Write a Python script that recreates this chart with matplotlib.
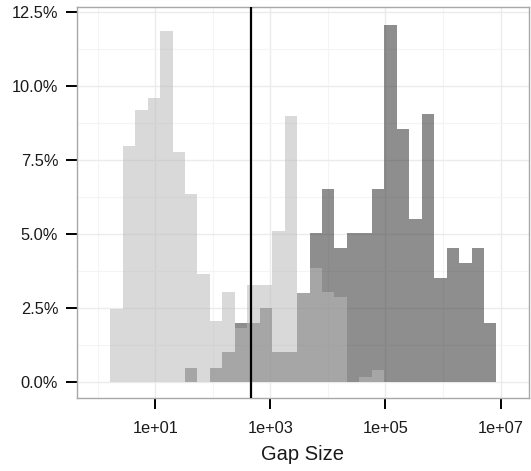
import numpy as np
import matplotlib
matplotlib.use("Agg")
import matplotlib.pyplot as plt
from matplotlib.ticker import FuncFormatter, FixedLocator

# ----------------- data (percent of each group per log10 bin) -----------------
BIN_START_LOG10 = 0.219      # left edge of first bin, log10(gap size)
BIN_WIDTH_LOG10 = 0.2164     # ggplot-style equal bins on log scale

pct_light = [2.47, 7.98, 9.20, 9.62, 11.86, 7.77, 6.35, 3.66, 2.06, 3.06,
             1.82, 3.29, 3.29, 5.12, 9.00, 3.03, 3.87, 3.06, 2.89, 0.00,
             0.19, 0.40, 0.00, 0.00, 0.00, 0.00, 0.00, 0.00, 0.00, 0.00, 0.00]
pct_dark = [0.00, 0.00, 0.00, 0.00, 0.00, 0.00, 0.47, 0.00, 0.47, 1.02,
            1.99, 1.99, 2.50, 1.02, 1.02, 3.03, 5.03, 6.54, 4.53, 5.03,
            5.03, 6.54, 12.08, 8.55, 5.53, 9.05, 3.53, 4.53, 4.02, 4.53, 2.01]

CUTOFF = 460                 # vertical reference line
x_ticks = [1e1, 1e3, 1e5, 1e7]
x_tick_labels = ["1e+01", "1e+03", "1e+05", "1e+07"]
x_minor = [1e0, 1e2, 1e4, 1e6]
y_ticks = [0, 2.5, 5.0, 7.5, 10.0, 12.5]

# ----------------- style -----------------
plt.rcParams.update({
    "font.family": ["Liberation Sans", "DejaVu Sans"],
})
LIGHT_FC = "#bababa"
DARK_FC = "#313131"
ALPHA = 0.55
GRID_MAJOR = "#ebebeb"
GRID_MINOR = "#f4f4f4"

fig = plt.figure(figsize=(5.31, 4.71), dpi=100)
ax = fig.add_axes([0.145, 0.1543, 0.8507, 0.8315])

n = len(pct_light)
edges = 10 ** (BIN_START_LOG10 + BIN_WIDTH_LOG10 * np.arange(n + 1))
left = edges[:-1]
width = edges[1:] - edges[:-1]

ax.set_xscale("log")
ax.bar(left, pct_dark, width=width, align="edge", color=DARK_FC, alpha=ALPHA,
       linewidth=0, zorder=2)
ax.bar(left, pct_light, width=width, align="edge", color=LIGHT_FC, alpha=ALPHA,
       linewidth=0, zorder=3)
ax.axvline(CUTOFF, color="black", linewidth=1.6, zorder=4)

# ----------------- axes -----------------
ax.set_xlim(10 ** -0.359, 10 ** 7.488)
ax.set_ylim(-0.54, 12.69)

ax.xaxis.set_major_locator(FixedLocator(x_ticks))
ax.set_xticklabels(x_tick_labels)
ax.xaxis.set_minor_locator(FixedLocator(x_minor))
ax.yaxis.set_major_locator(FixedLocator(y_ticks))
ax.yaxis.set_minor_locator(FixedLocator([1.25, 3.75, 6.25, 8.75, 11.25]))
ax.yaxis.set_major_formatter(FuncFormatter(lambda v, pos=None: f"{v:.1f}%"))
ax.xaxis.set_minor_formatter(FuncFormatter(lambda v, pos=None: ""))

ax.grid(True, which="major", color=GRID_MAJOR, linewidth=1.0, zorder=0)
ax.grid(True, which="minor", color=GRID_MINOR, linewidth=0.8, zorder=0)
ax.set_axisbelow(True)

ax.tick_params(which="major", length=8, width=1.4, color="black",
               labelsize=11.8, labelcolor="#1a1a1a")
ax.tick_params(axis="x", which="major", pad=8.5)
ax.tick_params(axis="y", which="major", pad=5.5)
ax.tick_params(which="minor", length=0)
for s in ax.spines.values():
    s.set_color("#a8a8a8")
    s.set_linewidth(1.0)

ax.set_xlabel("Gap Size", fontsize=14.5, color="#1a1a1a", labelpad=6)

fig.savefig("out.png", dpi=100)
